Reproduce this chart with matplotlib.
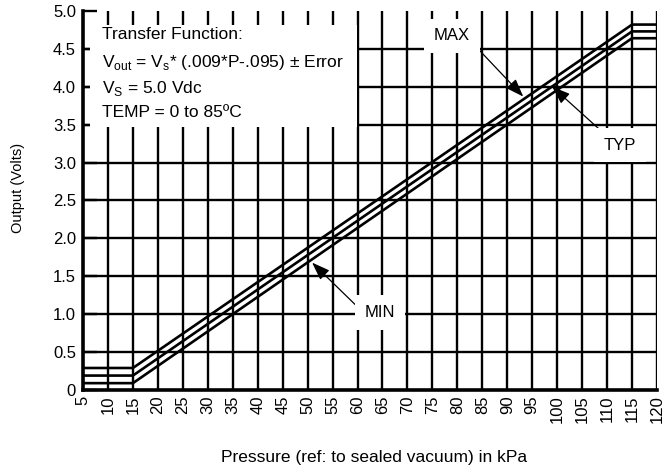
import matplotlib
matplotlib.use("Agg")
import matplotlib.pyplot as plt
from matplotlib.patches import Rectangle

plt.rcParams['font.family'] = ['Liberation Sans', 'DejaVu Sans']

# Data
pressure = [5, 15, 115, 120]          # kPa
v_max = [0.29, 0.29, 4.82, 4.82]
v_typ = [0.19, 0.19, 4.73, 4.73]
v_min = [0.09, 0.09, 4.64, 4.64]

x_ticks = list(range(5, 121, 5))
y_ticks = [0, 0.5, 1.0, 1.5, 2.0, 2.5, 3.0, 3.5, 4.0, 4.5, 5.0]
y_labels = ['0', '0.5', '1.0', '1.5', '2.0', '2.5', '3.0', '3.5', '4.0', '4.5', '5.0']

fig = plt.figure(figsize=(6.65, 4.75), dpi=100)
ax = fig.add_axes([0.1248, 0.179, 0.8632, 0.798])

ax.set_xlim(5, 120)
ax.set_ylim(0, 5.0)

# grid drawn by hand so the edges look like the original
for x in x_ticks[1:]:
    ax.axvline(x, color='black', lw=1.7, zorder=1)
for y in y_ticks[1:-1]:
    ax.axhline(y, color='black', lw=1.7, zorder=1)

for v in (v_max, v_typ, v_min):
    ax.plot(pressure, v, color='black', lw=1.9, zorder=2,
            solid_capstyle='butt')

ax.spines['top'].set_visible(False)
ax.spines['right'].set_visible(False)
ax.spines['left'].set_linewidth(2.6)
ax.spines['bottom'].set_linewidth(2.6)

ax.set_xticks(x_ticks)
ax.set_xticklabels([str(t) for t in x_ticks], rotation=90, fontsize=12)
ax.set_yticks(y_ticks)
ax.set_yticklabels(y_labels, fontsize=12)
ax.tick_params(axis='x', length=0, pad=4)
ax.tick_params(axis='y', direction='in', length=10, width=1.7, pad=5)

ax.set_xlabel('Pressure (ref: to sealed vacuum) in kPa', fontsize=12.5)
ax.xaxis.set_label_coords(0.507, -0.158)
ax.set_ylabel('Output (Volts)', fontsize=10.5)
ax.yaxis.set_label_coords(-0.101, 0.534)

# white box with transfer function
ax.add_patch(Rectangle((0.012, 0.694), 0.465, 0.27, transform=ax.transAxes,
                       facecolor='white', edgecolor='none', zorder=4))
ax.text(0.033, 0.926, 'Transfer Function:', transform=ax.transAxes,
        fontsize=12.5, va='baseline', zorder=5)
ax.text(0.033, 0.852, r'V$_\mathregular{out}$ = V$_\mathregular{s}$* (.009*P-.095) ± Error',
        transform=ax.transAxes, fontsize=12.5, va='baseline', zorder=5)
ax.text(0.033, 0.784, r'V$_\mathregular{S}$ = 5.0 Vdc', transform=ax.transAxes,
        fontsize=12.5, va='baseline', zorder=5)
ax.text(0.033, 0.720, 'TEMP = 0 to 85ºC', transform=ax.transAxes,
        fontsize=12.5, va='baseline', zorder=5)

# curve labels with arrows
arrow = dict(arrowstyle='-|>,head_length=0.55,head_width=0.2', color='black',
             lw=0.9, mutation_scale=20, shrinkA=0, shrinkB=0)
box = dict(facecolor='white', edgecolor='none', pad=7)

ax.annotate('', xy=(93.2, 3.87), xytext=(84.0, 4.51), arrowprops=arrow, zorder=3)
ax.text(78.9, 4.67, 'MAX', fontsize=12, ha='center', va='center', bbox=box, zorder=4)

ax.annotate('', xy=(99.0, 4.0), xytext=(108.6, 3.43), arrowprops=arrow, zorder=3)
ax.text(112.6, 3.23, 'TYP', fontsize=12, ha='center', va='center', bbox=box, zorder=4)

ax.annotate('', xy=(50.9, 1.68), xytext=(60.1, 1.09), arrowprops=arrow, zorder=3)
ax.text(64.5, 1.02, 'MIN', fontsize=12, ha='center', va='center', bbox=box, zorder=4)

fig.savefig('out.png', dpi=100)
